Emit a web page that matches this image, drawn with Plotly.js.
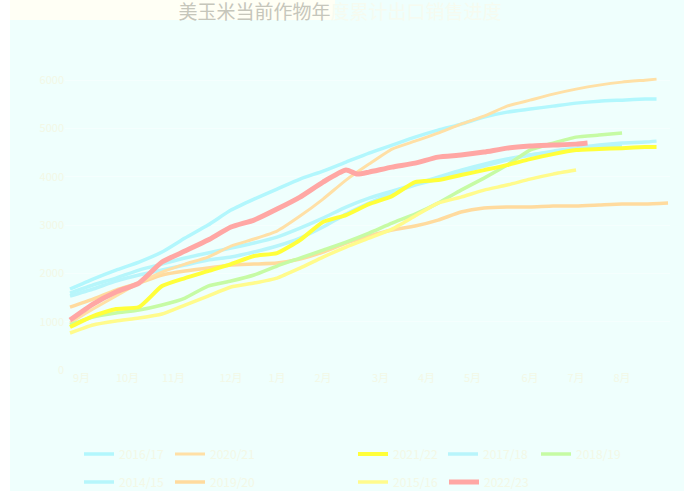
<!DOCTYPE html>
<html>
<head>
<meta charset="utf-8">
<script src="https://cdn.plot.ly/plotly-3.0.1.min.js"></script>
<style>html,body{margin:0;padding:0;background:#ffffff;}#chart{width:684px;height:491px;}</style>
</head>
<body>
<div id="chart"></div>
<script>
// week indices (weeks since start of marketing year)
const weeksA = [0,2,4,6,8,10,12,14,16,18,20,22,24,26,28,30,32,34,36,38,40,42,44,46,48,50,51];
const weeksLong = [0,2,4,6,8,10,12,14,16,18,20,22,24,26,28,30,32,34,36,38,40,42,44,46,48,50,52];
const weeks48 = [0,2,4,6,8,10,12,14,16,18,20,22,24,26,28,30,32,34,36,38,40,42,44,46,48];
const weeks44 = [0,2,4,6,8,10,12,14,16,18,20,22,24,26,28,30,32,34,36,38,40,42,44];
const weeksRed = [0,2,4,6,8,10,12,14,16,18,20,22,24,25,26,28,30,32,34,36,38,40,42,44,45];

// cumulative export sales (万吨)
const s2016 = [1677,1884,2070,2236,2443,2732,3002,3312,3540,3747,3954,4119,4306,4492,4658,4823,4968,5092,5237,5341,5403,5465,5527,5568,5589,5610,5610];
const s2020 = [973,1263,1532,1801,2029,2194,2339,2567,2712,2877,3188,3540,3933,4264,4575,4740,4906,5092,5258,5465,5589,5713,5817,5900,5962,6003,6024];
const s2021 = [890,1118,1263,1304,1739,1904,2049,2194,2360,2422,2691,3064,3209,3436,3602,3892,3933,4037,4140,4244,4368,4471,4554,4575,4595,4616,4616];
const s2017 = [1532,1677,1842,1967,2070,2174,2277,2339,2443,2567,2732,2960,3229,3457,3664,3830,3954,4099,4223,4347,4451,4533,4595,4658,4699,4720,4740];
const s2018 = [932,1097,1180,1242,1346,1490,1739,1842,1967,2153,2318,2484,2650,2836,3043,3229,3457,3726,3974,4244,4554,4699,4823,4865,4906];
const s2014 = [1594,1760,1904,2070,2194,2318,2422,2525,2629,2753,2939,3146,3374,3560,3705,3850,3995,4140,4264,4368,4451,4513,4575,4616,4637];
const s2019 = [1304,1470,1656,1801,1967,2049,2111,2174,2194,2215,2298,2443,2629,2774,2898,2981,3105,3271,3353,3374,3374,3395,3395,3416,3436,3436,3457];
const s2015 = [766,932,1014,1076,1159,1346,1532,1718,1801,1904,2111,2339,2546,2732,2919,3188,3457,3581,3726,3830,3954,4057,4140];
const s2022 = [1035,1366,1615,1801,2236,2463,2691,2960,3105,3333,3581,3892,4140,4057,4099,4202,4285,4409,4451,4513,4595,4637,4658,4678,4699];

const names = ["2016/17","2020/21","2021/22","2017/18","2018/19","2014/15","2019/20","2015/16","2022/23"];
const tickWeeks = [1,5,9,14,18,22,27,31,35,40,44,48];
const tickLabels = ["9月","10月","11月","12月","1月","2月","3月","4月","5月","6月","7月","8月"];
const yTicks = [0,1000,2000,3000,4000,5000,6000];

const faint = "#f3f8e6";
function tr(x, y, name, color, width, legend) {
  return {type:"scatter", mode:"lines", x:x, y:y, name:name, legend:legend,
    line:{color:color, width:width, shape:"spline", smoothing:0.5}};
}
const traces = [
  tr(weeks48, s2014, names[5], "#b6f6fb", 3.5, "legend6"),
  tr(weeksA, s2016, names[0], "#b2f7fd", 3.5, "legend"),
  tr(weeksA, s2017, names[3], "#b8f5fb", 3.5, "legend4"),
  tr(weeksLong, s2019, names[6], "#ffdb9e", 3.5, "legend7"),
  tr(weeksA, s2020, names[1], "#ffe0a6", 3, "legend2"),
  tr(weeks48, s2018, names[4], "#c6fba4", 3.5, "legend5"),
  tr(weeks44, s2015, names[7], "#fffb8c", 3.5, "legend8"),
  tr(weeksA, s2021, names[2], "#ffff3a", 4, "legend3"),
  tr(weeksRed, s2022, names[8], "#ffa7a4", 5, "legend9")
];

function lg(px, py) {
  return {x:(px-65)/605, y:(370-py)/338, xanchor:"left", yanchor:"middle", orientation:"v",
    bgcolor:"rgba(0,0,0,0)", borderwidth:0, font:{family:"Noto Sans CJK SC", size:12, color:faint}};
}

const layout = {
  width:684, height:491,
  paper_bgcolor:"#effffd", plot_bgcolor:"#effffd",
  margin:{l:65, r:14, t:32, b:121, autoexpand:false},
  font:{family:"Noto Sans CJK SC", color:faint},
  title:{text:'<span style="color:#c6c6bb">美玉米当前作物年</span><span style="color:#f6fbf0">度累计出口销售进度</span>',
    x:0.497, xref:"container", xanchor:"center", y:0.974, yref:"container", yanchor:"middle",
    font:{family:"Noto Sans CJK SC", size:19, color:"#c6c6bb"}},
  xaxis:{range:[-0.435,52.17], tickvals:tickWeeks, ticktext:tickLabels, showgrid:false, zeroline:false,
    showline:false, ticks:"", automargin:false, tickfont:{size:11, color:faint}},
  yaxis:{range:[0,7000], tickvals:yTicks, showgrid:true, gridcolor:"#f5fffe", zeroline:false,
    showline:false, ticks:"", automargin:false, tickfont:{size:11, color:faint}},
  showlegend:true,
  legend:lg(79,454), legend2:lg(170,454), legend3:lg(353,454), legend4:lg(443,454), legend5:lg(536,454),
  legend6:lg(79,482), legend7:lg(170,482), legend8:lg(353,482), legend9:lg(444,482),
  shapes:[
    {type:"rect", xref:"paper", yref:"paper", x0:(10-65)/605, x1:(335-65)/605, y0:(370-20)/338, y1:(370-0)/338,
      fillcolor:"#fffff5", line:{width:0}, layer:"below"},
    {type:"rect", xref:"paper", yref:"paper", x0:(0-65)/605, x1:(10-65)/605, y0:(370-491)/338, y1:(370-0)/338,
      fillcolor:"#ffffff", line:{width:0}, layer:"below"}
  ]
};

Plotly.newPlot("chart", traces, layout, {displayModeBar:false, staticPlot:true});
</script>
</body>
</html>
